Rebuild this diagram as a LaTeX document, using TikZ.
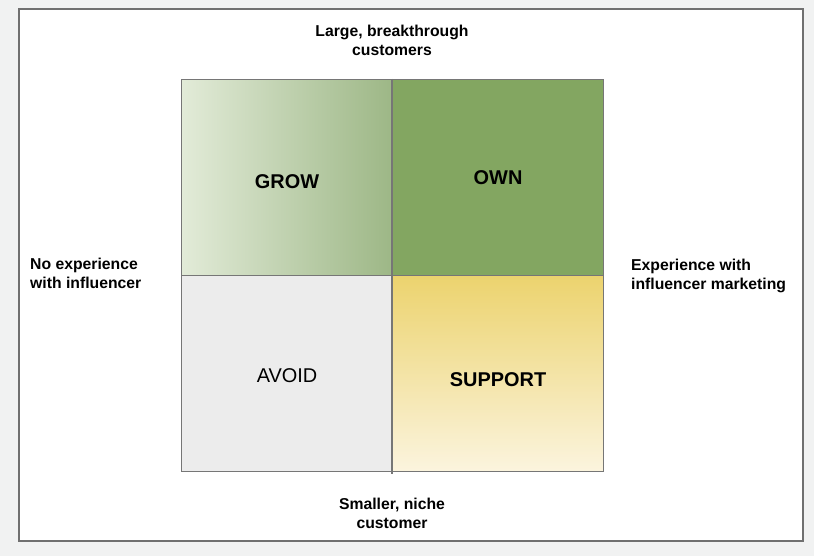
\documentclass[tikz,border=0pt]{standalone}
\usepackage{fontspec}
\usepackage{tikz}
\usepackage{xcolor}
\setmainfont{Liberation Sans}

\definecolor{pagegray}{HTML}{F1F2F2}
\definecolor{framegray}{HTML}{707070}
\definecolor{linegray}{HTML}{767676}
\definecolor{growl}{HTML}{E2EBD8}
\definecolor{growr}{HTML}{9DB786}
\definecolor{owng}{HTML}{83A661}
\definecolor{avoidg}{HTML}{ECECEC}
\definecolor{supt}{HTML}{ECD36E}
\definecolor{supb}{HTML}{FBF4DE}

\begin{document}
\begin{tikzpicture}[x=1bp,y=-1bp]%
  \tikzstyle{quad}=[rectangle,draw=linegray,line width=1.1bp,anchor=north west,
    minimum width=211bp,minimum height=196bp,inner sep=0]
  \tikzstyle{qtext}=[font=\fontsize{20}{23}\selectfont\bfseries,inner sep=0]
  \tikzstyle{axis}=[font=\fontsize{15.8}{19}\selectfont\bfseries,inner sep=0]
  % page and frame
  \fill[pagegray] (0,0) rectangle (814,556);
  \draw[framegray,line width=2.2bp,fill=white] (19,9) rectangle (803,541);
  % the four quadrants
  \node(grow)[quad,left color=growl,right color=growr,
    label={[qtext,yshift=-4bp]center:GROW}] at (181,79) {};
  \node(own)[quad,fill=owng,
    label={[qtext]center:OWN}] at (392,79) {};
  \node(avoid)[quad,fill=avoidg,
    label={[qtext,font=\fontsize{20}{23}\selectfont,yshift=-2bp]center:AVOID}] at (181,275) {};
  \node(support)[quad,top color=supt,bottom color=supb,
    label={[qtext,yshift=-6bp]center:SUPPORT}] at (392,275) {};
  \draw[linegray,line width=1.1bp] (own.north west) -- ([yshift=-2bp]support.south west);
  % axis texts
  \node(top)[axis,align=center] at (392,40) {Large, breakthrough\\customers};
  \node(bottom)[axis,align=center] at (392,513) {Smaller, niche\\customer};
  \node(left)[axis,align=left,anchor=west] at (30,273) {No experience\\with influencer};
  \node(right)[axis,align=left,anchor=west] at (631,276) {Experience with\\influencer marketing};
\end{tikzpicture}
\end{document}
